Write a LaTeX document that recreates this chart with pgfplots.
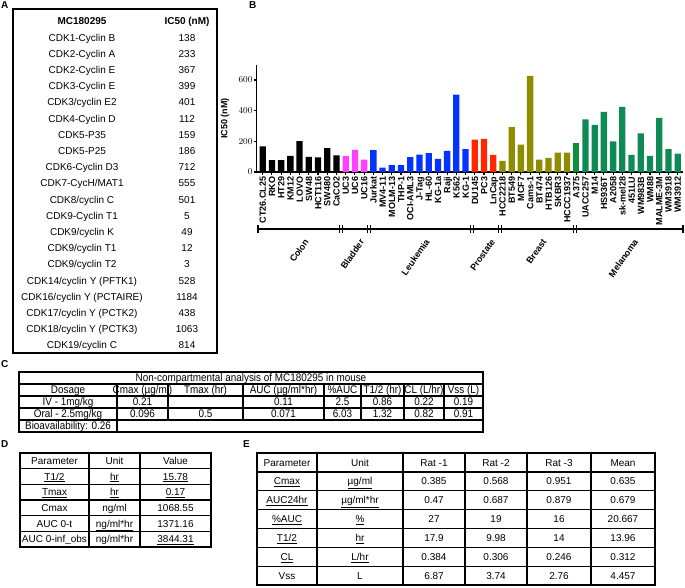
\documentclass[border=0pt]{standalone}
\usepackage{pgfplots}
\pgfplotsset{compat=1.18}
\usepackage{fontspec}
\setmainfont{Liberation Sans}
\newfontfamily\narrow[FakeStretch=0.9]{Liberation Sans}
\newcommand\fs[1]{\fontsize{#1}{#1}\selectfont}
\definecolor{cmag}{HTML}{FF40FF}
\definecolor{cblue}{HTML}{0433FF}
\definecolor{cred}{HTML}{FF2600}
\definecolor{colive}{HTML}{8F8C00}
\definecolor{cgreen}{HTML}{0E8A55}
\definecolor{cgreenA}{HTML}{0A8F3A}
\newcommand\cell[3]{\node[anchor=base,inner sep=0pt] at (#1,#2) {#3};}
\newcommand\ucell[3]{\node[anchor=base,inner sep=0pt] at (#1,#2) {\underline{#3}};}
\newcommand\arow[3]{\cell{82}{#1}{#2}\cell{187}{#1}{#3}}
\begin{document}
\begin{tikzpicture}
\begin{scope}[x=1pt,y=-1pt]
\useasboundingbox (0,0) rectangle (685,587);
% ---------------- Panel A
\node[font=\bfseries\fs{10},anchor=north west,inner sep=0pt] at (1,1) {A};
\draw[line width=1.2pt] (13,9) rectangle (217,353);
\node[anchor=base,inner sep=0pt,font=\bfseries\fs{10}] at (82,24.5) {MC180295};
\node[anchor=base,inner sep=0pt,font=\bfseries\fs{10}] at (187,24.5) {IC50 (nM)};
\begin{scope}[font=\fs{10}]
\arow{41.1}{CDK1-Cyclin B}{138}
\arow{57.3}{CDK2-Cyclin A}{233}
\arow{73.5}{CDK2-Cyclin E}{367}
\arow{89.7}{CDK3-Cyclin E}{399}
\arow{105.9}{CDK3/cyclin E2}{401}
\arow{122.1}{CDK4-Cyclin D}{112}
\arow{138.3}{CDK5-P35}{159}
\arow{154.5}{CDK5-P25}{186}
\arow{170.7}{CDK6-Cyclin D3}{712}
\arow{186.9}{CDK7-CycH/MAT1}{555}
\arow{203.1}{CDK8/cyclin C}{501}
\arow{219.3}{CDK9-Cyclin T1}{5}
\arow{235.5}{CDK9/cyclin K}{49}
\arow{251.7}{CDK9/cyclin T1}{12}
\arow{267.9}{CDK9/cyclin T2}{3}
\arow{284.1}{CDK14/cyclin Y (PFTK1)}{528}
\arow{300.3}{CDK16/cyclin Y (PCTAIRE)}{1184}
\arow{316.5}{CDK17/cyclin Y (PCTK2)}{438}
\arow{332.7}{CDK18/cyclin Y (PCTK3)}{1063}
\arow{348.9}{CDK19/cyclin C}{814}
\end{scope}
% ---------------- Panel B labels and brackets
\node[font=\bfseries\fs{10},anchor=north west,inner sep=0pt] at (249,1) {B};
\draw[line width=1.2pt] (258,229) -- (683,229);
\draw[line width=1.2pt] (258,225) -- (258,233);
\draw[line width=1.2pt] (683,225) -- (683,233);
\foreach \b in {341,369,472,500,575}{
  \draw[line width=1pt] (\b-1.3,225) -- (\b-1.3,233);
  \draw[line width=1pt] (\b+1.3,225) -- (\b+1.3,233);
}
\begin{scope}[font=\bfseries\fs{9}]
\foreach \c/\t in {299.5/Colon,355/Bladder,420.5/Leukemia,486/Prostate,537.5/Breast,629/Melanoma}{
  \node[rotate=55,anchor=east,inner sep=0pt,text depth=0pt] at (\c+7,240) {\t};
}
\end{scope}
% ---------------- Panel C
\node[font=\bfseries\fs{10},anchor=north west,inner sep=0pt] at (1,360) {C};
\begin{scope}[line width=1.3pt]
\draw (19,372) rectangle (483,432);
\foreach \yy in {384,396,408,420}{\draw (19,\yy) -- (483,\yy);}
\foreach \xx in {168,243,324,361,404,444}{\draw (\xx,384) -- (\xx,420);}
\draw (117,384) -- (117,432);
\end{scope}
\begin{scope}[font=\narrow\fs{11}]
\cell{251}{381.8}{Non-compartmental analysis of MC180295 in mouse}
\cell{68}{393.8}{Dosage}\cell{142.5}{393.8}{Cmax (µg/ml)}\cell{205.5}{393.8}{Tmax (hr)}\cell{283.5}{393.8}{AUC (µg/ml*hr)}\cell{342.5}{393.8}{\%AUC}\cell{382.5}{393.8}{T1/2 (hr)}\cell{424}{393.8}{CL (L/hr)}\cell{463.5}{393.8}{Vss (L)}
\cell{68}{405.8}{IV - 1mg/kg}\cell{142.5}{405.8}{0.21}\cell{283.5}{405.8}{0.11}\cell{342.5}{405.8}{2.5}\cell{382.5}{405.8}{0.86}\cell{424}{405.8}{0.22}\cell{463.5}{405.8}{0.19}
\cell{68}{417.8}{Oral - 2.5mg/kg}\cell{142.5}{417.8}{0.096}\cell{205.5}{417.8}{0.5}\cell{283.5}{417.8}{0.071}\cell{342.5}{417.8}{6.03}\cell{382.5}{417.8}{1.32}\cell{424}{417.8}{0.82}\cell{463.5}{417.8}{0.91}
\cell{68}{429.8}{Bioavailability: 0.26}
\end{scope}
% ---------------- Panel D
\node[font=\bfseries\fs{10},anchor=north west,inner sep=0pt] at (1,440) {D};
\begin{scope}[line width=1.3pt]
\draw (20,453) rectangle (211,547);
\foreach \yy in {468.67,484.33,500,515.67,531.33}{\draw (20,\yy) -- (211,\yy);}
\foreach \xx in {89,140}{\draw (\xx,453) -- (\xx,547);}
\end{scope}
\begin{scope}[font=\fs{10}]
\cell{54.5}{464.4}{Parameter}\cell{114.5}{464.4}{Unit}\cell{175.5}{464.4}{Value}
\ucell{54.5}{480.1}{T1/2}\ucell{114.5}{480.1}{hr}\ucell{175.5}{480.1}{15.78}
\ucell{54.5}{495.8}{Tmax}\ucell{114.5}{495.8}{hr}\ucell{175.5}{495.8}{0.17}
\cell{54.5}{511.4}{Cmax}\ucell{114.5}{511.4}{ng/ml}\cell{175.5}{511.4}{1068.55}
\cell{54.5}{527.1}{AUC 0-t}\ucell{114.5}{527.1}{ng/ml*hr}\cell{175.5}{527.1}{1371.16}
\ucell{54.5}{542.8}{AUC 0-inf\_obs}\ucell{114.5}{542.8}{ng/ml*hr}\ucell{175.5}{542.8}{3844.31}
\end{scope}
% ---------------- Panel E
\node[font=\bfseries\fs{10},anchor=north west,inner sep=0pt] at (243,440) {E};
\begin{scope}[line width=1.3pt]
\draw (257,453) rectangle (655,585);
\foreach \k in {1,...,6}{\draw (257,{453+18.857*\k}) -- (655,{453+18.857*\k});}
\foreach \xx in {317,403,465,527,591}{\draw (\xx,453) -- (\xx,585);}
\end{scope}
\begin{scope}[font=\fs{10}]
\cell{287}{466}{Parameter}\cell{360}{466}{Unit}\cell{434}{466}{Rat -1}\cell{496}{466}{Rat -2}\cell{559}{466}{Rat -3}\cell{623}{466}{Mean}
\foreach \a/\b/\c/\d/\e/\f [count=\i from 1] in {Cmax/µg\slash ml/0.385/0.568/0.951/0.635,AUC24hr/µg\slash ml*hr/0.47/0.687/0.879/0.679,\%AUC/\%/27/19/16/20.667,T1\slash 2/hr/17.9/9.98/14/13.96,CL/L\slash hr/0.384/0.306/0.246/0.312}{
  \pgfmathsetmacro\yb{453+18.857*\i+13.0}
  \ucell{287}{\yb}{\a}\ucell{360}{\yb}{\b}\cell{434}{\yb}{\c}\cell{496}{\yb}{\d}\cell{559}{\yb}{\e}\cell{623}{\yb}{\f}
}
\cell{287}{579.1}{Vss}\cell{360}{579.1}{L}\cell{434}{579.1}{6.87}\cell{496}{579.1}{3.74}\cell{559}{579.1}{2.76}\cell{623}{579.1}{4.457}
\end{scope}
\end{scope}
% ---------------- Bar chart
\begin{axis}[
  at={(256.7pt,-172pt)}, anchor=south west,
  scale only axis, width=426.3pt, height=107.3pt,
  xmin=-0.65, xmax=45.58, ymin=0, ymax=700,
  axis x line*=bottom, axis y line*=left,
  axis line style={line width=1.2pt},
  tick style={line width=1.1pt,black},
  major tick length=3pt, tick align=outside,
  ytick={0,200,400,600},
  yticklabel style={font=\bfseries\fs{9},inner sep=1pt},
  ylabel={IC50 (nM)},
  ylabel style={font=\bfseries\fs{9},at={(axis description cs:-0.074,0.5)},anchor=center},
  xtick={0,...,45},
  xticklabels={CT26.CL25,RKO,HT29,KM12,LOVO,SW48,HCT116,SW480,CaCO2,UC3,UC6,UC16,Jurkat,MV4-11,MOLM-13,THP-1,OCI-AML3,J-Tag,HL-60,KG-1a,Raji,K562,KG-1,DU145,PC3,LnCap,HCC2218,BT549,MCF7,Cams-1,BT474,HTB126,SKBR3,HCCC1937,A375,UACC257,M14,HS936T,A2058,sk-mel28,451LU,WM983B,WM88,MALME-3M,WM3918,WM3912},
  x tick label style={rotate=90,anchor=east,font=\bfseries\fs{9},inner xsep=1.5pt,inner ysep=0pt,text height=6.5pt,text depth=0pt},
  ybar, bar width=6.3pt,
]
\addplot[fill=black,draw=none,bar shift=0pt] coordinates {(0,167)(1,78)(2,78)(3,105)(4,202)(5,99)(6,95)(7,155)(8,109)};
\addplot[fill=cmag,draw=none,bar shift=0pt] coordinates {(9,103)(10,144)(11,80)};
\addplot[fill=cblue,draw=none,bar shift=0pt] coordinates {(12,142)(13,29)(14,45)(15,45)(16,97)(17,113)(18,124)(19,85)(20,138)(21,505)(22,150)};
\addplot[fill=cred,draw=none,bar shift=0pt] coordinates {(23,212)(24,216)(25,111)};
\addplot[fill=colive,draw=none,bar shift=0pt] coordinates {(26,72)(27,293)(28,179)(29,627)(30,80)(31,93)(32,126)(33,126)};
\addplot[fill=cgreenA,draw=none,bar shift=0pt] coordinates {(34,192)};
\addplot[fill=cgreen,draw=none,bar shift=0pt] coordinates {(35,344)(36,307)(37,392)(38,200)(39,425)(40,111)(41,252)(42,105)(43,353)(44,150)(45,120)};
\end{axis}
\end{tikzpicture}
\end{document}
